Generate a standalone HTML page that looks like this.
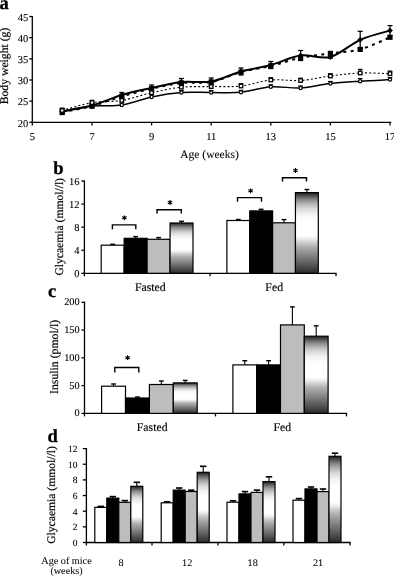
<!DOCTYPE html>
<html><head><meta charset="utf-8"><style>
html,body{margin:0;padding:0;background:#fff;overflow:hidden}
svg{display:block;will-change:transform}
text{font-family:"Liberation Serif",serif;fill:#000;stroke:#000;stroke-width:0.3px;text-rendering:geometricPrecision}
</style></head><body>
<svg width="394" height="577" viewBox="0 0 394 577">
<defs>
<linearGradient id="grad" x1="0" y1="0" x2="0" y2="1">
<stop offset="0" stop-color="#1a1a1a"/>
<stop offset="0.04" stop-color="#505050"/>
<stop offset="0.08" stop-color="#808080"/>
<stop offset="0.14" stop-color="#b4b4b4"/>
<stop offset="0.2" stop-color="#dadada"/>
<stop offset="0.26" stop-color="#f0f0f0"/>
<stop offset="0.32" stop-color="#fcfcfc"/>
<stop offset="0.36" stop-color="#fff"/>
<stop offset="0.53" stop-color="#fff"/>
<stop offset="0.57" stop-color="#eee"/>
<stop offset="0.62" stop-color="#ccc"/>
<stop offset="0.68" stop-color="#aaa"/>
<stop offset="0.76" stop-color="#8c8c8c"/>
<stop offset="0.84" stop-color="#6c6c6c"/>
<stop offset="0.92" stop-color="#4c4c4c"/>
<stop offset="1" stop-color="#2a2a2a"/>
</linearGradient>
</defs>
<rect width="394" height="577" fill="#fff"/>
<text x="-0.50" y="9.20" font-size="18.5" text-anchor="start" font-weight="bold">a</text>
<line x1="32.30" y1="15.90" x2="32.30" y2="125.50" stroke="#000" stroke-width="1.3"/>
<line x1="31.70" y1="122.30" x2="391.30" y2="122.30" stroke="#000" stroke-width="1.3"/>
<line x1="29.30" y1="122.30" x2="32.30" y2="122.30" stroke="#000" stroke-width="1.3"/>
<text x="28.20" y="126.50" font-size="10.5" text-anchor="end" font-weight="normal" style="stroke-width:0.1px">20</text>
<line x1="29.30" y1="101.14" x2="32.30" y2="101.14" stroke="#000" stroke-width="1.3"/>
<text x="28.20" y="105.34" font-size="10.5" text-anchor="end" font-weight="normal" style="stroke-width:0.1px">25</text>
<line x1="29.30" y1="79.98" x2="32.30" y2="79.98" stroke="#000" stroke-width="1.3"/>
<text x="28.20" y="84.18" font-size="10.5" text-anchor="end" font-weight="normal" style="stroke-width:0.1px">30</text>
<line x1="29.30" y1="58.82" x2="32.30" y2="58.82" stroke="#000" stroke-width="1.3"/>
<text x="28.20" y="63.02" font-size="10.5" text-anchor="end" font-weight="normal" style="stroke-width:0.1px">35</text>
<line x1="29.30" y1="37.66" x2="32.30" y2="37.66" stroke="#000" stroke-width="1.3"/>
<text x="28.20" y="41.86" font-size="10.5" text-anchor="end" font-weight="normal" style="stroke-width:0.1px">40</text>
<line x1="29.30" y1="16.50" x2="32.30" y2="16.50" stroke="#000" stroke-width="1.3"/>
<text x="28.20" y="20.70" font-size="10.5" text-anchor="end" font-weight="normal" style="stroke-width:0.1px">45</text>
<line x1="92.00" y1="122.30" x2="92.00" y2="125.50" stroke="#000" stroke-width="1.3"/>
<line x1="151.60" y1="122.30" x2="151.60" y2="125.50" stroke="#000" stroke-width="1.3"/>
<line x1="211.20" y1="122.30" x2="211.20" y2="125.50" stroke="#000" stroke-width="1.3"/>
<line x1="270.80" y1="122.30" x2="270.80" y2="125.50" stroke="#000" stroke-width="1.3"/>
<line x1="330.40" y1="122.30" x2="330.40" y2="125.50" stroke="#000" stroke-width="1.3"/>
<line x1="390.00" y1="122.30" x2="390.00" y2="125.50" stroke="#000" stroke-width="1.3"/>
<text x="32.40" y="140.30" font-size="10.5" text-anchor="middle" font-weight="normal" style="stroke-width:0.1px">5</text>
<text x="92.00" y="140.30" font-size="10.5" text-anchor="middle" font-weight="normal" style="stroke-width:0.1px">7</text>
<text x="151.60" y="140.30" font-size="10.5" text-anchor="middle" font-weight="normal" style="stroke-width:0.1px">9</text>
<text x="211.20" y="140.30" font-size="10.5" text-anchor="middle" font-weight="normal" style="stroke-width:0.1px">11</text>
<text x="270.80" y="140.30" font-size="10.5" text-anchor="middle" font-weight="normal" style="stroke-width:0.1px">13</text>
<text x="330.40" y="140.30" font-size="10.5" text-anchor="middle" font-weight="normal" style="stroke-width:0.1px">15</text>
<text x="390.00" y="140.30" font-size="10.5" text-anchor="middle" font-weight="normal" style="stroke-width:0.1px">17</text>
<text x="209.50" y="157.60" font-size="11.5" text-anchor="middle" font-weight="normal" style="stroke-width:0.08px">Age (weeks)</text>
<text transform="translate(8.1,66.0) rotate(-90)" font-size="11.7" text-anchor="middle" style="stroke-width:0.2px">Body weight (g)</text>
<path d="M62.20,111.00 C67.17,110.17 82.07,107.00 92.00,106.00 C101.93,105.00 111.87,106.50 121.80,105.00 C131.73,103.50 141.67,99.08 151.60,97.00 C161.53,94.92 171.47,93.25 181.40,92.50 C191.33,91.75 201.27,92.53 211.20,92.50 C221.13,92.47 231.07,93.25 241.00,92.30 C250.93,91.35 260.87,87.52 270.80,86.80 C280.73,86.08 290.67,88.55 300.60,88.00 C310.53,87.45 320.47,84.63 330.40,83.50 C340.33,82.37 350.27,81.85 360.20,81.20 C370.13,80.55 385.03,79.87 390.00,79.60" fill="none" stroke="#000" stroke-width="1.5"/>
<line x1="62.20" y1="109.00" x2="62.20" y2="111.00" stroke="#000" stroke-width="1"/>
<line x1="59.90" y1="109.00" x2="64.50" y2="109.00" stroke="#000" stroke-width="1.2"/>
<line x1="92.00" y1="104.00" x2="92.00" y2="106.00" stroke="#000" stroke-width="1"/>
<line x1="89.70" y1="104.00" x2="94.30" y2="104.00" stroke="#000" stroke-width="1.2"/>
<line x1="121.80" y1="103.00" x2="121.80" y2="105.00" stroke="#000" stroke-width="1"/>
<line x1="119.50" y1="103.00" x2="124.10" y2="103.00" stroke="#000" stroke-width="1.2"/>
<line x1="151.60" y1="95.00" x2="151.60" y2="97.00" stroke="#000" stroke-width="1"/>
<line x1="149.30" y1="95.00" x2="153.90" y2="95.00" stroke="#000" stroke-width="1.2"/>
<line x1="181.40" y1="90.50" x2="181.40" y2="92.50" stroke="#000" stroke-width="1"/>
<line x1="179.10" y1="90.50" x2="183.70" y2="90.50" stroke="#000" stroke-width="1.2"/>
<line x1="211.20" y1="90.50" x2="211.20" y2="92.50" stroke="#000" stroke-width="1"/>
<line x1="208.90" y1="90.50" x2="213.50" y2="90.50" stroke="#000" stroke-width="1.2"/>
<line x1="241.00" y1="90.30" x2="241.00" y2="92.30" stroke="#000" stroke-width="1"/>
<line x1="238.70" y1="90.30" x2="243.30" y2="90.30" stroke="#000" stroke-width="1.2"/>
<line x1="270.80" y1="84.80" x2="270.80" y2="86.80" stroke="#000" stroke-width="1"/>
<line x1="268.50" y1="84.80" x2="273.10" y2="84.80" stroke="#000" stroke-width="1.2"/>
<line x1="300.60" y1="86.00" x2="300.60" y2="88.00" stroke="#000" stroke-width="1"/>
<line x1="298.30" y1="86.00" x2="302.90" y2="86.00" stroke="#000" stroke-width="1.2"/>
<line x1="330.40" y1="81.50" x2="330.40" y2="83.50" stroke="#000" stroke-width="1"/>
<line x1="328.10" y1="81.50" x2="332.70" y2="81.50" stroke="#000" stroke-width="1.2"/>
<line x1="360.20" y1="78.60" x2="360.20" y2="81.20" stroke="#000" stroke-width="1"/>
<line x1="357.90" y1="78.60" x2="362.50" y2="78.60" stroke="#000" stroke-width="1.2"/>
<line x1="390.00" y1="77.60" x2="390.00" y2="79.60" stroke="#000" stroke-width="1"/>
<line x1="387.70" y1="77.60" x2="392.30" y2="77.60" stroke="#000" stroke-width="1.2"/>
<circle cx="62.2" cy="111" r="1.6" fill="#fff" stroke="#000" stroke-width="1.2"/>
<circle cx="92.0" cy="106" r="1.6" fill="#fff" stroke="#000" stroke-width="1.2"/>
<circle cx="121.8" cy="105" r="1.6" fill="#fff" stroke="#000" stroke-width="1.2"/>
<circle cx="151.6" cy="97" r="1.6" fill="#fff" stroke="#000" stroke-width="1.2"/>
<circle cx="181.4" cy="92.5" r="1.6" fill="#fff" stroke="#000" stroke-width="1.2"/>
<circle cx="211.2" cy="92.5" r="1.6" fill="#fff" stroke="#000" stroke-width="1.2"/>
<circle cx="241.0" cy="92.3" r="1.6" fill="#fff" stroke="#000" stroke-width="1.2"/>
<circle cx="270.8" cy="86.8" r="1.6" fill="#fff" stroke="#000" stroke-width="1.2"/>
<circle cx="300.6" cy="88" r="1.6" fill="#fff" stroke="#000" stroke-width="1.2"/>
<circle cx="330.4" cy="83.5" r="1.6" fill="#fff" stroke="#000" stroke-width="1.2"/>
<circle cx="360.2" cy="81.2" r="1.6" fill="#fff" stroke="#000" stroke-width="1.2"/>
<circle cx="390.0" cy="79.6" r="1.6" fill="#fff" stroke="#000" stroke-width="1.2"/>
<path d="M62.20,112.20 C67.17,111.17 82.07,108.62 92.00,106.00 C101.93,103.38 111.87,99.38 121.80,96.50 C131.73,93.62 141.67,90.95 151.60,88.70 C161.53,86.45 171.47,84.12 181.40,83.00 C191.33,81.88 201.27,83.82 211.20,82.00 C221.13,80.18 231.07,74.78 241.00,72.10 C250.93,69.42 260.87,68.28 270.80,65.90 C280.73,63.52 290.67,59.88 300.60,57.80 C310.53,55.72 320.47,54.80 330.40,53.40 C340.33,52.00 350.27,52.08 360.20,49.40 C370.13,46.72 385.03,39.32 390.00,37.30" fill="none" stroke="#000" stroke-width="2" stroke-dasharray="3 4.4"/>
<path d="M62.20,111.50 C67.17,110.50 82.07,108.25 92.00,105.50 C101.93,102.75 111.87,97.92 121.80,95.00 C131.73,92.08 141.67,90.17 151.60,88.00 C161.53,85.83 171.47,83.08 181.40,82.00 C191.33,80.92 201.27,83.25 211.20,81.50 C221.13,79.75 231.07,74.25 241.00,71.50 C250.93,68.75 260.87,67.67 270.80,65.00 C280.73,62.33 290.67,56.83 300.60,55.50 C310.53,54.17 320.47,59.62 330.40,57.00 C340.33,54.38 350.27,44.20 360.20,39.80 C370.13,35.40 385.03,32.13 390.00,30.60" fill="none" stroke="#000" stroke-width="2"/>
<line x1="62.20" y1="108.50" x2="62.20" y2="114.50" stroke="#000" stroke-width="1.2"/>
<line x1="59.70" y1="108.50" x2="64.70" y2="108.50" stroke="#000" stroke-width="1.3"/>
<line x1="59.70" y1="114.50" x2="64.70" y2="114.50" stroke="#000" stroke-width="1.3"/>
<line x1="92.00" y1="103.00" x2="92.00" y2="108.00" stroke="#000" stroke-width="1.2"/>
<line x1="89.50" y1="103.00" x2="94.50" y2="103.00" stroke="#000" stroke-width="1.3"/>
<line x1="89.50" y1="108.00" x2="94.50" y2="108.00" stroke="#000" stroke-width="1.3"/>
<line x1="121.80" y1="92.50" x2="121.80" y2="97.50" stroke="#000" stroke-width="1.2"/>
<line x1="119.30" y1="92.50" x2="124.30" y2="92.50" stroke="#000" stroke-width="1.3"/>
<line x1="119.30" y1="97.50" x2="124.30" y2="97.50" stroke="#000" stroke-width="1.3"/>
<line x1="151.60" y1="85.00" x2="151.60" y2="91.00" stroke="#000" stroke-width="1.2"/>
<line x1="149.10" y1="85.00" x2="154.10" y2="85.00" stroke="#000" stroke-width="1.3"/>
<line x1="149.10" y1="91.00" x2="154.10" y2="91.00" stroke="#000" stroke-width="1.3"/>
<line x1="181.40" y1="78.50" x2="181.40" y2="85.50" stroke="#000" stroke-width="1.2"/>
<line x1="178.90" y1="78.50" x2="183.90" y2="78.50" stroke="#000" stroke-width="1.3"/>
<line x1="178.90" y1="85.50" x2="183.90" y2="85.50" stroke="#000" stroke-width="1.3"/>
<line x1="211.20" y1="78.00" x2="211.20" y2="85.00" stroke="#000" stroke-width="1.2"/>
<line x1="208.70" y1="78.00" x2="213.70" y2="78.00" stroke="#000" stroke-width="1.3"/>
<line x1="208.70" y1="85.00" x2="213.70" y2="85.00" stroke="#000" stroke-width="1.3"/>
<line x1="241.00" y1="68.00" x2="241.00" y2="75.00" stroke="#000" stroke-width="1.2"/>
<line x1="238.50" y1="68.00" x2="243.50" y2="68.00" stroke="#000" stroke-width="1.3"/>
<line x1="238.50" y1="75.00" x2="243.50" y2="75.00" stroke="#000" stroke-width="1.3"/>
<line x1="270.80" y1="61.50" x2="270.80" y2="68.50" stroke="#000" stroke-width="1.2"/>
<line x1="268.30" y1="61.50" x2="273.30" y2="61.50" stroke="#000" stroke-width="1.3"/>
<line x1="268.30" y1="68.50" x2="273.30" y2="68.50" stroke="#000" stroke-width="1.3"/>
<line x1="300.60" y1="50.50" x2="300.60" y2="60.50" stroke="#000" stroke-width="1.2"/>
<line x1="298.10" y1="50.50" x2="303.10" y2="50.50" stroke="#000" stroke-width="1.3"/>
<line x1="298.10" y1="60.50" x2="303.10" y2="60.50" stroke="#000" stroke-width="1.3"/>
<line x1="330.40" y1="55.80" x2="330.40" y2="58.20" stroke="#000" stroke-width="1.2"/>
<line x1="327.90" y1="55.80" x2="332.90" y2="55.80" stroke="#000" stroke-width="1.3"/>
<line x1="327.90" y1="58.20" x2="332.90" y2="58.20" stroke="#000" stroke-width="1.3"/>
<line x1="360.20" y1="31.30" x2="360.20" y2="48.30" stroke="#000" stroke-width="1.2"/>
<line x1="357.70" y1="31.30" x2="362.70" y2="31.30" stroke="#000" stroke-width="1.3"/>
<line x1="357.70" y1="48.30" x2="362.70" y2="48.30" stroke="#000" stroke-width="1.3"/>
<line x1="390.00" y1="25.60" x2="390.00" y2="35.60" stroke="#000" stroke-width="1.2"/>
<line x1="387.50" y1="25.60" x2="392.50" y2="25.60" stroke="#000" stroke-width="1.3"/>
<line x1="387.50" y1="35.60" x2="392.50" y2="35.60" stroke="#000" stroke-width="1.3"/>
<rect x="59.6" y="109.6" width="5.2" height="5.2" fill="#000"/>
<rect x="89.4" y="103.4" width="5.2" height="5.2" fill="#000"/>
<rect x="119.2" y="93.9" width="5.2" height="5.2" fill="#000"/>
<rect x="149.0" y="86.1" width="5.2" height="5.2" fill="#000"/>
<rect x="178.8" y="80.4" width="5.2" height="5.2" fill="#000"/>
<rect x="208.6" y="79.4" width="5.2" height="5.2" fill="#000"/>
<rect x="238.4" y="69.5" width="5.2" height="5.2" fill="#000"/>
<rect x="268.2" y="63.3" width="5.2" height="5.2" fill="#000"/>
<rect x="298.0" y="55.2" width="5.2" height="5.2" fill="#000"/>
<rect x="327.8" y="50.8" width="5.2" height="5.2" fill="#000"/>
<rect x="357.6" y="46.8" width="5.2" height="5.2" fill="#000"/>
<rect x="387.4" y="34.7" width="5.2" height="5.2" fill="#000"/>
<path d="M59.3,111.5 L62.2,108.6 L65.1,111.5 L62.2,114.4Z" fill="#000"/>
<path d="M89.1,105.5 L92.0,102.6 L94.9,105.5 L92.0,108.4Z" fill="#000"/>
<path d="M118.9,95 L121.8,92.1 L124.7,95 L121.8,97.9Z" fill="#000"/>
<path d="M148.7,88 L151.6,85.1 L154.5,88 L151.6,90.9Z" fill="#000"/>
<path d="M178.5,82 L181.4,79.1 L184.3,82 L181.4,84.9Z" fill="#000"/>
<path d="M208.3,81.5 L211.2,78.6 L214.1,81.5 L211.2,84.4Z" fill="#000"/>
<path d="M238.1,71.5 L241.0,68.6 L243.9,71.5 L241.0,74.4Z" fill="#000"/>
<path d="M267.9,65 L270.8,62.1 L273.7,65 L270.8,67.9Z" fill="#000"/>
<path d="M297.7,55.5 L300.6,52.6 L303.5,55.5 L300.6,58.4Z" fill="#000"/>
<path d="M327.5,57 L330.4,54.1 L333.3,57 L330.4,59.9Z" fill="#000"/>
<path d="M357.3,39.8 L360.2,36.9 L363.1,39.8 L360.2,42.699999999999996Z" fill="#000"/>
<path d="M387.1,30.6 L390.0,27.700000000000003 L392.9,30.6 L390.0,33.5Z" fill="#000"/>
<path d="M62.20,110.50 C67.17,109.18 82.07,104.28 92.00,102.60 C101.93,100.92 111.87,102.05 121.80,100.40 C131.73,98.75 141.67,94.90 151.60,92.70 C161.53,90.50 171.47,88.22 181.40,87.20 C191.33,86.18 201.27,86.80 211.20,86.60 C221.13,86.40 231.07,87.10 241.00,86.00 C250.93,84.90 260.87,80.92 270.80,80.00 C280.73,79.08 290.67,81.17 300.60,80.50 C310.53,79.83 320.47,77.25 330.40,76.00 C340.33,74.75 350.27,73.38 360.20,73.00 C370.13,72.62 385.03,73.58 390.00,73.70" fill="none" stroke="#000" stroke-width="1.1" stroke-dasharray="2 2.2"/>
<line x1="62.20" y1="108.20" x2="62.20" y2="110.50" stroke="#000" stroke-width="1"/>
<line x1="59.90" y1="108.20" x2="64.50" y2="108.20" stroke="#000" stroke-width="1.2"/>
<line x1="92.00" y1="100.30" x2="92.00" y2="102.60" stroke="#000" stroke-width="1"/>
<line x1="89.70" y1="100.30" x2="94.30" y2="100.30" stroke="#000" stroke-width="1.2"/>
<line x1="121.80" y1="98.10" x2="121.80" y2="100.40" stroke="#000" stroke-width="1"/>
<line x1="119.50" y1="98.10" x2="124.10" y2="98.10" stroke="#000" stroke-width="1.2"/>
<line x1="151.60" y1="90.40" x2="151.60" y2="92.70" stroke="#000" stroke-width="1"/>
<line x1="149.30" y1="90.40" x2="153.90" y2="90.40" stroke="#000" stroke-width="1.2"/>
<line x1="181.40" y1="84.90" x2="181.40" y2="87.20" stroke="#000" stroke-width="1"/>
<line x1="179.10" y1="84.90" x2="183.70" y2="84.90" stroke="#000" stroke-width="1.2"/>
<line x1="211.20" y1="84.30" x2="211.20" y2="86.60" stroke="#000" stroke-width="1"/>
<line x1="208.90" y1="84.30" x2="213.50" y2="84.30" stroke="#000" stroke-width="1.2"/>
<line x1="241.00" y1="83.70" x2="241.00" y2="86.00" stroke="#000" stroke-width="1"/>
<line x1="238.70" y1="83.70" x2="243.30" y2="83.70" stroke="#000" stroke-width="1.2"/>
<line x1="270.80" y1="77.70" x2="270.80" y2="80.00" stroke="#000" stroke-width="1"/>
<line x1="268.50" y1="77.70" x2="273.10" y2="77.70" stroke="#000" stroke-width="1.2"/>
<line x1="300.60" y1="78.20" x2="300.60" y2="80.50" stroke="#000" stroke-width="1"/>
<line x1="298.30" y1="78.20" x2="302.90" y2="78.20" stroke="#000" stroke-width="1.2"/>
<line x1="330.40" y1="73.70" x2="330.40" y2="76.00" stroke="#000" stroke-width="1"/>
<line x1="328.10" y1="73.70" x2="332.70" y2="73.70" stroke="#000" stroke-width="1.2"/>
<line x1="360.20" y1="69.40" x2="360.20" y2="73.00" stroke="#000" stroke-width="1"/>
<line x1="357.90" y1="69.40" x2="362.50" y2="69.40" stroke="#000" stroke-width="1.2"/>
<line x1="390.00" y1="71.10" x2="390.00" y2="73.70" stroke="#000" stroke-width="1"/>
<line x1="387.70" y1="71.10" x2="392.30" y2="71.10" stroke="#000" stroke-width="1.2"/>
<rect x="60.45" y="108.75" width="3.5" height="3.5" fill="#fff" stroke="#000" stroke-width="1.3"/>
<rect x="90.25" y="100.85" width="3.5" height="3.5" fill="#fff" stroke="#000" stroke-width="1.3"/>
<rect x="120.05" y="98.65" width="3.5" height="3.5" fill="#fff" stroke="#000" stroke-width="1.3"/>
<rect x="149.85" y="90.95" width="3.5" height="3.5" fill="#fff" stroke="#000" stroke-width="1.3"/>
<rect x="179.65" y="85.45" width="3.5" height="3.5" fill="#fff" stroke="#000" stroke-width="1.3"/>
<rect x="209.45" y="84.85" width="3.5" height="3.5" fill="#fff" stroke="#000" stroke-width="1.3"/>
<rect x="239.25" y="84.25" width="3.5" height="3.5" fill="#fff" stroke="#000" stroke-width="1.3"/>
<rect x="269.05" y="78.25" width="3.5" height="3.5" fill="#fff" stroke="#000" stroke-width="1.3"/>
<rect x="298.85" y="78.75" width="3.5" height="3.5" fill="#fff" stroke="#000" stroke-width="1.3"/>
<rect x="328.65" y="74.25" width="3.5" height="3.5" fill="#fff" stroke="#000" stroke-width="1.3"/>
<rect x="358.45" y="71.25" width="3.5" height="3.5" fill="#fff" stroke="#000" stroke-width="1.3"/>
<rect x="388.25" y="71.95" width="3.5" height="3.5" fill="#fff" stroke="#000" stroke-width="1.3"/>
<text x="53.30" y="173.70" font-size="18.5" text-anchor="start" font-weight="bold">b</text>
<line x1="84.40" y1="180.46" x2="84.40" y2="276.30" stroke="#000" stroke-width="1.3"/>
<line x1="83.80" y1="273.30" x2="336.60" y2="273.30" stroke="#000" stroke-width="1.3"/>
<line x1="81.40" y1="273.30" x2="84.40" y2="273.30" stroke="#000" stroke-width="1.3"/>
<text x="79.60" y="277.40" font-size="10.5" text-anchor="end" font-weight="normal" style="stroke-width:0.1px">0</text>
<line x1="81.40" y1="250.24" x2="84.40" y2="250.24" stroke="#000" stroke-width="1.3"/>
<text x="79.60" y="254.34" font-size="10.5" text-anchor="end" font-weight="normal" style="stroke-width:0.1px">4</text>
<line x1="81.40" y1="227.18" x2="84.40" y2="227.18" stroke="#000" stroke-width="1.3"/>
<text x="79.60" y="231.28" font-size="10.5" text-anchor="end" font-weight="normal" style="stroke-width:0.1px">8</text>
<line x1="81.40" y1="204.12" x2="84.40" y2="204.12" stroke="#000" stroke-width="1.3"/>
<text x="79.60" y="208.22" font-size="10.5" text-anchor="end" font-weight="normal" style="stroke-width:0.1px">12</text>
<line x1="81.40" y1="181.06" x2="84.40" y2="181.06" stroke="#000" stroke-width="1.3"/>
<text x="79.60" y="185.16" font-size="10.5" text-anchor="end" font-weight="normal" style="stroke-width:0.1px">16</text>
<line x1="210.00" y1="273.30" x2="210.00" y2="276.30" stroke="#000" stroke-width="1.3"/>
<line x1="336.00" y1="273.30" x2="336.00" y2="276.30" stroke="#000" stroke-width="1.3"/>
<line x1="112.67" y1="244.30" x2="112.67" y2="245.20" stroke="#000" stroke-width="1.1"/>
<line x1="110.27" y1="244.30" x2="115.08" y2="244.30" stroke="#000" stroke-width="1.4"/>
<rect x="101.20" y="245.20" width="22.95" height="28.10" fill="#fff" stroke="#000" stroke-width="1.2"/>
<line x1="135.62" y1="236.60" x2="135.62" y2="238.30" stroke="#000" stroke-width="1.1"/>
<line x1="133.22" y1="236.60" x2="138.03" y2="236.60" stroke="#000" stroke-width="1.4"/>
<rect x="124.15" y="238.30" width="22.95" height="35.00" fill="#000" stroke="#000" stroke-width="1.2"/>
<line x1="158.57" y1="237.60" x2="158.57" y2="239.30" stroke="#000" stroke-width="1.1"/>
<line x1="156.17" y1="237.60" x2="160.97" y2="237.60" stroke="#000" stroke-width="1.4"/>
<rect x="147.10" y="239.30" width="22.95" height="34.00" fill="#bdbdbd" stroke="#000" stroke-width="1.2"/>
<line x1="181.53" y1="221.30" x2="181.53" y2="223.00" stroke="#000" stroke-width="1.1"/>
<line x1="179.12" y1="221.30" x2="183.93" y2="221.30" stroke="#000" stroke-width="1.4"/>
<rect x="170.05" y="223.00" width="22.95" height="50.30" fill="url(#grad)" stroke="#000" stroke-width="1.2"/>
<line x1="238.33" y1="219.50" x2="238.33" y2="220.50" stroke="#000" stroke-width="1.1"/>
<line x1="235.93" y1="219.50" x2="240.73" y2="219.50" stroke="#000" stroke-width="1.4"/>
<rect x="226.90" y="220.50" width="22.85" height="52.80" fill="#fff" stroke="#000" stroke-width="1.2"/>
<line x1="261.18" y1="209.30" x2="261.18" y2="210.90" stroke="#000" stroke-width="1.1"/>
<line x1="258.78" y1="209.30" x2="263.57" y2="209.30" stroke="#000" stroke-width="1.4"/>
<rect x="249.75" y="210.90" width="22.85" height="62.40" fill="#000" stroke="#000" stroke-width="1.2"/>
<line x1="284.03" y1="219.60" x2="284.03" y2="222.80" stroke="#000" stroke-width="1.1"/>
<line x1="281.63" y1="219.60" x2="286.43" y2="219.60" stroke="#000" stroke-width="1.4"/>
<rect x="272.60" y="222.80" width="22.85" height="50.50" fill="#bdbdbd" stroke="#000" stroke-width="1.2"/>
<line x1="306.88" y1="189.50" x2="306.88" y2="192.60" stroke="#000" stroke-width="1.1"/>
<line x1="304.48" y1="189.50" x2="309.28" y2="189.50" stroke="#000" stroke-width="1.4"/>
<rect x="295.45" y="192.60" width="22.85" height="80.70" fill="url(#grad)" stroke="#000" stroke-width="1.2"/>
<path d="M112.4,229.3 V224.9 H135.8 V229.3" fill="none" stroke="#000" stroke-width="1.4"/>
<path d="M124.40,220.20L124.40,215.40M122.22,219.00L126.58,216.60M122.22,216.60L126.58,219.00" stroke="#000" stroke-width="1.1" fill="none"/>
<circle cx="124.4" cy="217.8" r="0.9" fill="#000"/>
<path d="M157,213.6 V209.7 H181.3 V213.6" fill="none" stroke="#000" stroke-width="1.4"/>
<path d="M170.00,204.90L170.00,200.10M167.82,203.70L172.18,201.30M167.82,201.30L172.18,203.70" stroke="#000" stroke-width="1.1" fill="none"/>
<circle cx="170" cy="202.5" r="0.9" fill="#000"/>
<path d="M237.5,201.7 V197.6 H261.5 V201.7" fill="none" stroke="#000" stroke-width="1.4"/>
<path d="M250.60,193.20L250.60,188.40M248.42,192.00L252.78,189.60M248.42,189.60L252.78,192.00" stroke="#000" stroke-width="1.1" fill="none"/>
<circle cx="250.6" cy="190.8" r="0.9" fill="#000"/>
<path d="M282.5,181.6 V177.7 H306.5 V181.6" fill="none" stroke="#000" stroke-width="1.4"/>
<path d="M295.50,172.90L295.50,168.10M293.32,171.70L297.68,169.30M293.32,169.30L297.68,171.70" stroke="#000" stroke-width="1.1" fill="none"/>
<circle cx="295.5" cy="170.5" r="0.9" fill="#000"/>
<text x="150.30" y="290.70" font-size="11.8" text-anchor="middle" font-weight="normal" style="stroke-width:0.15px">Fasted</text>
<text x="274.20" y="290.70" font-size="11.8" text-anchor="middle" font-weight="normal" style="stroke-width:0.15px">Fed</text>
<text transform="translate(62.8,226.8) rotate(-90)" font-size="11.6" text-anchor="middle" style="stroke-width:0.2px">Glycaemia (mmol//l)</text>
<text x="48.00" y="296.80" font-size="18.5" text-anchor="start" font-weight="bold">c</text>
<line x1="84.50" y1="301.70" x2="84.50" y2="416.40" stroke="#000" stroke-width="1.3"/>
<line x1="83.90" y1="413.40" x2="347.10" y2="413.40" stroke="#000" stroke-width="1.3"/>
<line x1="81.50" y1="413.40" x2="84.50" y2="413.40" stroke="#000" stroke-width="1.3"/>
<text x="79.60" y="416.40" font-size="10.3" text-anchor="end" font-weight="normal" style="stroke-width:0.1px">0</text>
<line x1="81.50" y1="385.62" x2="84.50" y2="385.62" stroke="#000" stroke-width="1.3"/>
<text x="79.60" y="388.62" font-size="10.3" text-anchor="end" font-weight="normal" style="stroke-width:0.1px">50</text>
<line x1="81.50" y1="357.85" x2="84.50" y2="357.85" stroke="#000" stroke-width="1.3"/>
<text x="79.60" y="360.85" font-size="10.3" text-anchor="end" font-weight="normal" style="stroke-width:0.1px">100</text>
<line x1="81.50" y1="330.07" x2="84.50" y2="330.07" stroke="#000" stroke-width="1.3"/>
<text x="79.60" y="333.07" font-size="10.3" text-anchor="end" font-weight="normal" style="stroke-width:0.1px">150</text>
<line x1="81.50" y1="302.30" x2="84.50" y2="302.30" stroke="#000" stroke-width="1.3"/>
<text x="79.60" y="305.30" font-size="10.3" text-anchor="end" font-weight="normal" style="stroke-width:0.1px">200</text>
<line x1="215.50" y1="413.40" x2="215.50" y2="416.40" stroke="#000" stroke-width="1.3"/>
<line x1="346.50" y1="413.40" x2="346.50" y2="416.40" stroke="#000" stroke-width="1.3"/>
<line x1="113.55" y1="384.00" x2="113.55" y2="386.20" stroke="#000" stroke-width="1.1"/>
<line x1="111.15" y1="384.00" x2="115.95" y2="384.00" stroke="#000" stroke-width="1.4"/>
<rect x="101.60" y="386.20" width="23.90" height="27.20" fill="#fff" stroke="#000" stroke-width="1.2"/>
<line x1="137.45" y1="397.00" x2="137.45" y2="398.00" stroke="#000" stroke-width="1.1"/>
<line x1="135.05" y1="397.00" x2="139.85" y2="397.00" stroke="#000" stroke-width="1.4"/>
<rect x="125.50" y="398.00" width="23.90" height="15.40" fill="#000" stroke="#000" stroke-width="1.2"/>
<line x1="161.35" y1="381.00" x2="161.35" y2="384.50" stroke="#000" stroke-width="1.1"/>
<line x1="158.95" y1="381.00" x2="163.75" y2="381.00" stroke="#000" stroke-width="1.4"/>
<rect x="149.40" y="384.50" width="23.90" height="28.90" fill="#bdbdbd" stroke="#000" stroke-width="1.2"/>
<line x1="185.25" y1="380.40" x2="185.25" y2="382.90" stroke="#000" stroke-width="1.1"/>
<line x1="182.85" y1="380.40" x2="187.65" y2="380.40" stroke="#000" stroke-width="1.4"/>
<rect x="173.30" y="382.90" width="23.90" height="30.50" fill="url(#grad)" stroke="#000" stroke-width="1.2"/>
<line x1="244.80" y1="360.70" x2="244.80" y2="364.90" stroke="#000" stroke-width="1.1"/>
<line x1="242.40" y1="360.70" x2="247.20" y2="360.70" stroke="#000" stroke-width="1.4"/>
<rect x="232.90" y="364.90" width="23.80" height="48.50" fill="#fff" stroke="#000" stroke-width="1.2"/>
<line x1="268.60" y1="360.70" x2="268.60" y2="364.90" stroke="#000" stroke-width="1.1"/>
<line x1="266.20" y1="360.70" x2="271.00" y2="360.70" stroke="#000" stroke-width="1.4"/>
<rect x="256.70" y="364.90" width="23.80" height="48.50" fill="#000" stroke="#000" stroke-width="1.2"/>
<line x1="292.40" y1="306.90" x2="292.40" y2="324.90" stroke="#000" stroke-width="1.1"/>
<line x1="290.00" y1="306.90" x2="294.80" y2="306.90" stroke="#000" stroke-width="1.4"/>
<rect x="280.50" y="324.90" width="23.80" height="88.50" fill="#bdbdbd" stroke="#000" stroke-width="1.2"/>
<line x1="316.20" y1="325.80" x2="316.20" y2="336.20" stroke="#000" stroke-width="1.1"/>
<line x1="313.80" y1="325.80" x2="318.60" y2="325.80" stroke="#000" stroke-width="1.4"/>
<rect x="304.30" y="336.20" width="23.80" height="77.20" fill="url(#grad)" stroke="#000" stroke-width="1.2"/>
<path d="M114.8,372.6 V367.5 H138.8 V372.6" fill="none" stroke="#000" stroke-width="1.4"/>
<path d="M127.60,360.10L127.60,355.30M125.42,358.90L129.78,356.50M125.42,356.50L129.78,358.90" stroke="#000" stroke-width="1.1" fill="none"/>
<circle cx="127.6" cy="357.7" r="0.9" fill="#000"/>
<text x="152.20" y="430.60" font-size="11.8" text-anchor="middle" font-weight="normal" style="stroke-width:0.15px">Fasted</text>
<text x="282.30" y="430.60" font-size="11.8" text-anchor="middle" font-weight="normal" style="stroke-width:0.15px">Fed</text>
<text transform="translate(58.3,356.9) rotate(-90)" font-size="11.75" text-anchor="middle" style="stroke-width:0.2px">Insulin (pmol/l)</text>
<text x="47.50" y="441.80" font-size="18.5" text-anchor="start" font-weight="bold">d</text>
<line x1="86.40" y1="448.00" x2="86.40" y2="545.50" stroke="#000" stroke-width="1.3"/>
<line x1="85.80" y1="542.50" x2="350.60" y2="542.50" stroke="#000" stroke-width="1.3"/>
<line x1="82.80" y1="542.50" x2="86.40" y2="542.50" stroke="#000" stroke-width="1.3"/>
<text x="77.40" y="545.80" font-size="9.5" text-anchor="end" font-weight="normal" style="stroke-width:0.1px">0</text>
<line x1="82.80" y1="526.85" x2="86.40" y2="526.85" stroke="#000" stroke-width="1.3"/>
<text x="77.40" y="530.15" font-size="9.5" text-anchor="end" font-weight="normal" style="stroke-width:0.1px">2</text>
<line x1="82.80" y1="511.20" x2="86.40" y2="511.20" stroke="#000" stroke-width="1.3"/>
<text x="77.40" y="514.50" font-size="9.5" text-anchor="end" font-weight="normal" style="stroke-width:0.1px">4</text>
<line x1="82.80" y1="495.55" x2="86.40" y2="495.55" stroke="#000" stroke-width="1.3"/>
<text x="77.40" y="498.85" font-size="9.5" text-anchor="end" font-weight="normal" style="stroke-width:0.1px">6</text>
<line x1="82.80" y1="479.90" x2="86.40" y2="479.90" stroke="#000" stroke-width="1.3"/>
<text x="77.40" y="483.20" font-size="9.5" text-anchor="end" font-weight="normal" style="stroke-width:0.1px">8</text>
<line x1="82.80" y1="464.25" x2="86.40" y2="464.25" stroke="#000" stroke-width="1.3"/>
<text x="77.40" y="467.55" font-size="9.5" text-anchor="end" font-weight="normal" style="stroke-width:0.1px">10</text>
<line x1="82.80" y1="448.60" x2="86.40" y2="448.60" stroke="#000" stroke-width="1.3"/>
<text x="77.40" y="451.90" font-size="9.5" text-anchor="end" font-weight="normal" style="stroke-width:0.1px">12</text>
<line x1="152.00" y1="542.50" x2="152.00" y2="545.50" stroke="#000" stroke-width="1.3"/>
<line x1="218.00" y1="542.50" x2="218.00" y2="545.50" stroke="#000" stroke-width="1.3"/>
<line x1="283.80" y1="542.50" x2="283.80" y2="545.50" stroke="#000" stroke-width="1.3"/>
<line x1="350.00" y1="542.50" x2="350.00" y2="545.50" stroke="#000" stroke-width="1.3"/>
<line x1="100.80" y1="506.40" x2="100.80" y2="507.40" stroke="#000" stroke-width="1.1"/>
<line x1="97.60" y1="506.40" x2="104.00" y2="506.40" stroke="#000" stroke-width="1.6"/>
<rect x="94.80" y="507.40" width="12.00" height="35.10" fill="#fff" stroke="#000" stroke-width="1.2"/>
<line x1="112.80" y1="496.60" x2="112.80" y2="498.10" stroke="#000" stroke-width="1.1"/>
<line x1="109.60" y1="496.60" x2="116.00" y2="496.60" stroke="#000" stroke-width="1.6"/>
<rect x="106.80" y="498.10" width="12.00" height="44.40" fill="#000" stroke="#000" stroke-width="1.2"/>
<line x1="124.80" y1="500.60" x2="124.80" y2="502.30" stroke="#000" stroke-width="1.1"/>
<line x1="121.60" y1="500.60" x2="128.00" y2="500.60" stroke="#000" stroke-width="1.6"/>
<rect x="118.80" y="502.30" width="12.00" height="40.20" fill="#bdbdbd" stroke="#000" stroke-width="1.2"/>
<line x1="136.80" y1="482.30" x2="136.80" y2="486.30" stroke="#000" stroke-width="1.1"/>
<line x1="133.60" y1="482.30" x2="140.00" y2="482.30" stroke="#000" stroke-width="1.6"/>
<rect x="130.80" y="486.30" width="12.00" height="56.20" fill="url(#grad)" stroke="#000" stroke-width="1.2"/>
<line x1="167.20" y1="501.80" x2="167.20" y2="502.80" stroke="#000" stroke-width="1.1"/>
<line x1="164.00" y1="501.80" x2="170.40" y2="501.80" stroke="#000" stroke-width="1.6"/>
<rect x="161.20" y="502.80" width="12.00" height="39.70" fill="#fff" stroke="#000" stroke-width="1.2"/>
<line x1="179.20" y1="488.00" x2="179.20" y2="490.10" stroke="#000" stroke-width="1.1"/>
<line x1="176.00" y1="488.00" x2="182.40" y2="488.00" stroke="#000" stroke-width="1.6"/>
<rect x="173.20" y="490.10" width="12.00" height="52.40" fill="#000" stroke="#000" stroke-width="1.2"/>
<line x1="191.20" y1="490.20" x2="191.20" y2="491.50" stroke="#000" stroke-width="1.1"/>
<line x1="188.00" y1="490.20" x2="194.40" y2="490.20" stroke="#000" stroke-width="1.6"/>
<rect x="185.20" y="491.50" width="12.00" height="51.00" fill="#bdbdbd" stroke="#000" stroke-width="1.2"/>
<line x1="203.20" y1="466.30" x2="203.20" y2="472.30" stroke="#000" stroke-width="1.1"/>
<line x1="200.00" y1="466.30" x2="206.40" y2="466.30" stroke="#000" stroke-width="1.6"/>
<rect x="197.20" y="472.30" width="12.00" height="70.20" fill="url(#grad)" stroke="#000" stroke-width="1.2"/>
<line x1="233.00" y1="500.80" x2="233.00" y2="502.20" stroke="#000" stroke-width="1.1"/>
<line x1="229.80" y1="500.80" x2="236.20" y2="500.80" stroke="#000" stroke-width="1.6"/>
<rect x="227.00" y="502.20" width="12.00" height="40.30" fill="#fff" stroke="#000" stroke-width="1.2"/>
<line x1="245.00" y1="491.60" x2="245.00" y2="493.90" stroke="#000" stroke-width="1.1"/>
<line x1="241.80" y1="491.60" x2="248.20" y2="491.60" stroke="#000" stroke-width="1.6"/>
<rect x="239.00" y="493.90" width="12.00" height="48.60" fill="#000" stroke="#000" stroke-width="1.2"/>
<line x1="257.00" y1="490.10" x2="257.00" y2="492.40" stroke="#000" stroke-width="1.1"/>
<line x1="253.80" y1="490.10" x2="260.20" y2="490.10" stroke="#000" stroke-width="1.6"/>
<rect x="251.00" y="492.40" width="12.00" height="50.10" fill="#bdbdbd" stroke="#000" stroke-width="1.2"/>
<line x1="269.00" y1="476.80" x2="269.00" y2="481.60" stroke="#000" stroke-width="1.1"/>
<line x1="265.80" y1="476.80" x2="272.20" y2="476.80" stroke="#000" stroke-width="1.6"/>
<rect x="263.00" y="481.60" width="12.00" height="60.90" fill="url(#grad)" stroke="#000" stroke-width="1.2"/>
<line x1="299.00" y1="498.60" x2="299.00" y2="500.20" stroke="#000" stroke-width="1.1"/>
<line x1="295.80" y1="498.60" x2="302.20" y2="498.60" stroke="#000" stroke-width="1.6"/>
<rect x="293.00" y="500.20" width="12.00" height="42.30" fill="#fff" stroke="#000" stroke-width="1.2"/>
<line x1="311.00" y1="487.00" x2="311.00" y2="488.90" stroke="#000" stroke-width="1.1"/>
<line x1="307.80" y1="487.00" x2="314.20" y2="487.00" stroke="#000" stroke-width="1.6"/>
<rect x="305.00" y="488.90" width="12.00" height="53.60" fill="#000" stroke="#000" stroke-width="1.2"/>
<line x1="323.00" y1="489.00" x2="323.00" y2="491.60" stroke="#000" stroke-width="1.1"/>
<line x1="319.80" y1="489.00" x2="326.20" y2="489.00" stroke="#000" stroke-width="1.6"/>
<rect x="317.00" y="491.60" width="12.00" height="50.90" fill="#bdbdbd" stroke="#000" stroke-width="1.2"/>
<line x1="335.00" y1="453.20" x2="335.00" y2="456.30" stroke="#000" stroke-width="1.1"/>
<line x1="331.80" y1="453.20" x2="338.20" y2="453.20" stroke="#000" stroke-width="1.6"/>
<rect x="329.00" y="456.30" width="12.00" height="86.20" fill="url(#grad)" stroke="#000" stroke-width="1.2"/>
<text transform="translate(55.2,495.0) rotate(-90)" font-size="11.6" text-anchor="middle" style="stroke-width:0.2px">Glycaemia (mmol//l)</text>
<text x="66.50" y="563.60" font-size="10.2" text-anchor="middle" font-weight="normal" style="stroke-width:0.05px">Age of mice</text>
<text x="66.50" y="574.20" font-size="10.2" text-anchor="middle" font-weight="normal" style="stroke-width:0.05px">(weeks)</text>
<text x="121.00" y="565.60" font-size="10.2" text-anchor="middle" font-weight="normal" style="stroke-width:0.05px">8</text>
<text x="187.20" y="565.60" font-size="10.2" text-anchor="middle" font-weight="normal" style="stroke-width:0.05px">12</text>
<text x="252.70" y="565.60" font-size="10.2" text-anchor="middle" font-weight="normal" style="stroke-width:0.05px">18</text>
<text x="318.00" y="565.60" font-size="10.2" text-anchor="middle" font-weight="normal" style="stroke-width:0.05px">21</text>
</svg>
</body></html>
